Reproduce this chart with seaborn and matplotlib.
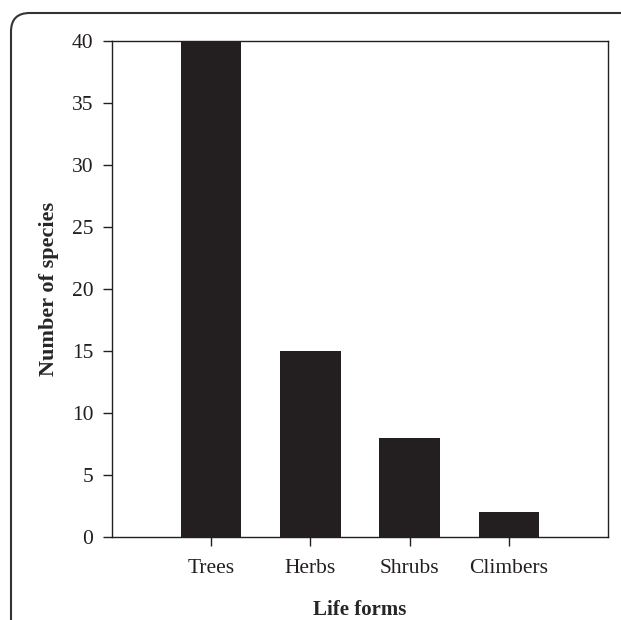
import matplotlib
matplotlib.use('Agg')
import pandas as pd
import matplotlib.pyplot as plt
import seaborn as sns
from matplotlib.patches import FancyBboxPatch

life_forms = ['Trees', 'Herbs', 'Shrubs', 'Climbers']
species_counts = [40, 15, 8, 2]
y_ticks = [0, 5, 10, 15, 20, 25, 30, 35, 40]

df = pd.DataFrame({'Life forms': life_forms, 'Number of species': species_counts})

sns.set_style('ticks')
plt.rcParams['font.family'] = ['Liberation Serif', 'DejaVu Serif']

fig = plt.figure(figsize=(6.21, 6.20), dpi=100)
ax = fig.add_axes([112 / 621, 1 - 537 / 620, (608 - 112) / 621, (537 - 41) / 620])

sns.barplot(data=df, x='Life forms', y='Number of species', color='#231f20',
            saturation=1, width=0.61, linewidth=0, ax=ax)

ax.set_xlim(-1, 4)
ax.set_ylim(0, 40)
ax.set_yticks(y_ticks)
ax.tick_params(axis='both', direction='out', length=6.5, width=1, colors='#231f20',
               labelsize=15.5, pad=7)
ax.tick_params(axis='x', pad=9)
for spine in ax.spines.values():
    spine.set_visible(True)
    spine.set_linewidth(1)
    spine.set_color('#231f20')

ax.set_xlabel('Life forms', fontsize=15, fontweight='bold', labelpad=16)
ax.set_ylabel('Number of species', fontsize=16, fontweight='bold', labelpad=9)

# rounded frame around the figure
frame = FancyBboxPatch((11 / 621, -0.1), 1.2, 1 - 13 / 620 + 0.1,
                       boxstyle='round,pad=0,rounding_size=0.03',
                       transform=fig.transFigure, fill=False,
                       edgecolor='#333333', linewidth=1.5)
fig.patches.append(frame)

fig.savefig('out.png', dpi=100)
